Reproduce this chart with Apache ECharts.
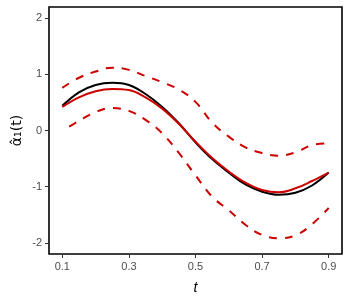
<!DOCTYPE html>
<html><head><meta charset="utf-8">
<script src="https://cdn.jsdelivr.net/npm/echarts@6/dist/echarts.min.js"></script>
<style>html,body{margin:0;padding:0;background:#fff}#c{width:350px;height:300px}</style>
</head><body><div id="c"></div>
<script>
var tVals = [0.10,0.15,0.20,0.25,0.30,0.35,0.40,0.45,0.50,0.55,0.60,0.65,0.70,0.75,0.80,0.85,0.90];
var trueCurve = [0.44,0.68,0.81,0.85,0.81,0.65,0.42,0.13,-0.21,-0.51,-0.75,-0.96,-1.09,-1.145,-1.11,-0.98,-0.75];
var estCurve  = [0.42,0.59,0.70,0.74,0.72,0.59,0.39,0.12,-0.20,-0.49,-0.73,-0.93,-1.06,-1.10,-1.03,-0.90,-0.75];
var upperBand = [0.76,0.94,1.05,1.12,1.08,0.97,0.86,0.73,0.51,0.14,-0.11,-0.30,-0.40,-0.45,-0.39,-0.26,-0.23];
var lowerBand = [0.00,0.17,0.33,0.40,0.35,0.19,-0.05,-0.40,-0.80,-1.18,-1.42,-1.68,-1.86,-1.92,-1.87,-1.67,-1.38];
var xTicks = [0.1,0.3,0.5,0.7,0.9];
var yTicks = [-2,-1,0,1,2];

function pairs(ys){ return tVals.map(function(t,i){ return [t, ys[i]]; }); }
var red = '#CD0000';
var chart = echarts.init(document.getElementById('c'), null, {renderer:'canvas'});
chart.setOption({
  backgroundColor:'#fff',
  animation:false,
  grid:{left:49, top:7, right:8, bottom:46, show:true, borderColor:'#000', borderWidth:1.6, backgroundColor:'transparent',
    containLabel:false, outerBoundsMode:'none'},
  xAxis:{
    type:'value', min:0.06, max:0.94,
    axisLine:{show:false, onZero:false},
    splitLine:{show:false},
    axisTick:{show:true, length:4, lineStyle:{color:'#333'}, customValues:xTicks},
    axisLabel:{customValues:xTicks, color:'#4D4D4D', fontFamily:'Liberation Sans', fontSize:11, margin:7,
      formatter:function(v){ return v.toFixed(1); }},
    name:'t', nameLocation:'middle', nameGap:27, nameMoveOverlap:false,
    nameTextStyle:{fontFamily:'Liberation Sans', fontStyle:'italic', fontSize:14, color:'#000'}
  },
  yAxis:{
    type:'value', min:-2.2, max:2.2,
    axisLine:{show:false, onZero:false},
    splitLine:{show:false},
    axisTick:{show:true, length:4, lineStyle:{color:'#333'}, customValues:yTicks},
    axisLabel:{customValues:yTicks, color:'#4D4D4D', fontFamily:'Liberation Sans', fontSize:11, margin:7},
    name:'\u03B1\u0302\u2081(t)', nameLocation:'middle', nameGap:25, nameRotate:90, nameMoveOverlap:false,
    nameTextStyle:{fontFamily:'DejaVu Sans', fontSize:14, color:'#000'}
  },
  series:[
    {type:'line', data:pairs(upperBand), smooth:0.4, showSymbol:false, silent:true,
      lineStyle:{color:red, width:2, type:[8,8]}},
    {type:'line', data:pairs(lowerBand), smooth:0.4, showSymbol:false, silent:true,
      lineStyle:{color:red, width:2, type:[8,8], dashOffset:8}},
    {type:'line', data:pairs(trueCurve), smooth:0.4, showSymbol:false, silent:true,
      lineStyle:{color:'#000', width:2}},
    {type:'line', data:pairs(estCurve), smooth:0.4, showSymbol:false, silent:true,
      lineStyle:{color:red, width:2}}
  ]
});
</script></body></html>
